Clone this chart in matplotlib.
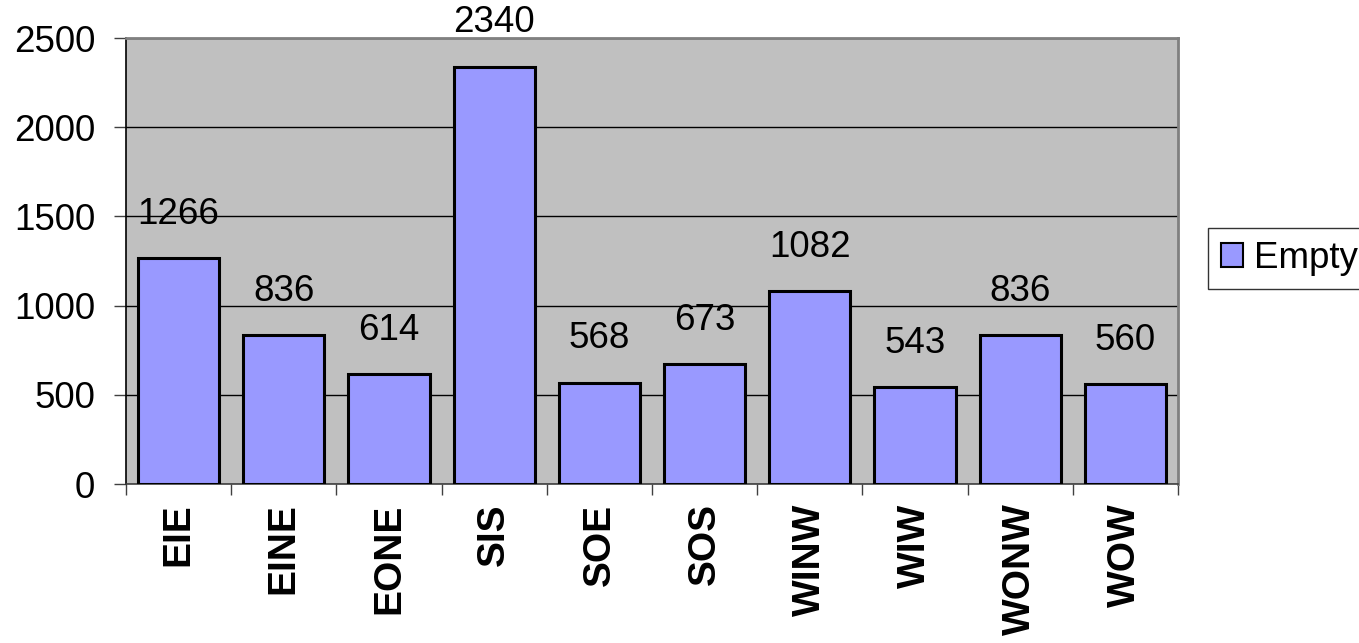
import matplotlib
matplotlib.use("Agg")
import matplotlib.pyplot as plt
from matplotlib.patches import Patch

plt.rcParams["font.family"] = ["Liberation Sans", "DejaVu Sans"]

categories = ["EIE", "EINE", "EONE", "SIS", "SOE", "SOS", "WINW", "WIW", "WONW", "WOW"]
values = [1266, 836, 614, 2340, 568, 673, 1082, 543, 836, 560]
series_name = "Empty"
y_ticks = [0, 500, 1000, 1500, 2000, 2500]

bar_color = "#9999FF"
plot_bg = "#C0C0C0"
fs = 26.5
cat_fs = 28

fig = plt.figure(figsize=(13.59, 6.43), dpi=100)
ax = fig.add_axes([126 / 1359, 1 - 484 / 643, (1178 - 126) / 1359, (484 - 38) / 643])
ax.set_facecolor(plot_bg)

x = list(range(len(categories)))
ax.bar(x, values, width=0.77, color=bar_color, edgecolor="black", linewidth=2.2, zorder=3)

for xi, v in zip(x, values):
    ax.annotate(str(v), (xi, v), xytext=(0, 31.5), textcoords="offset points",
                ha="center", va="center", fontsize=fs, zorder=5, clip_on=False)

ax.set_xlim(-0.5, len(categories) - 0.5)
ax.set_ylim(0, 2500)

# gridlines
ax.set_yticks(y_ticks)
ax.set_yticklabels([str(t) for t in y_ticks], fontsize=fs)
ax.yaxis.grid(True, color="black", linewidth=1.0, zorder=1)
ax.set_axisbelow(True)
ax.tick_params(axis="y", direction="out", length=8.6, width=1, color="#404040", pad=13.5)

ax.set_xticks(x)
ax.set_xticklabels(categories, rotation=90, fontsize=cat_fs, fontweight="bold")
ax.tick_params(axis="x", which="major", length=0, pad=14)
ax.set_xticks([i - 0.5 for i in range(len(categories) + 1)], minor=True)
ax.tick_params(axis="x", which="minor", direction="out", length=8, width=1, color="#404040")

for side in ("top", "right"):
    ax.spines[side].set_color("#808080")
    ax.spines[side].set_linewidth(2)
ax.spines["left"].set_color("black")
ax.spines["left"].set_linewidth(1.2)
ax.spines["bottom"].set_color("#404040")
ax.spines["bottom"].set_linewidth(1.2)

handle = Patch(facecolor=bar_color, edgecolor="black", linewidth=1.5)
leg = fig.legend([handle], [series_name], loc="upper left",
                 bbox_to_anchor=(1208 / 1359, 1 - 228 / 643), fontsize=fs,
                 frameon=True, fancybox=False, handlelength=0.6, handleheight=0.6,
                 handletextpad=0.3, borderpad=0.35, borderaxespad=0)
leg.get_frame().set_edgecolor("black")
leg.get_frame().set_linewidth(1.0)

fig.savefig("out.png", dpi=100, facecolor="white")
